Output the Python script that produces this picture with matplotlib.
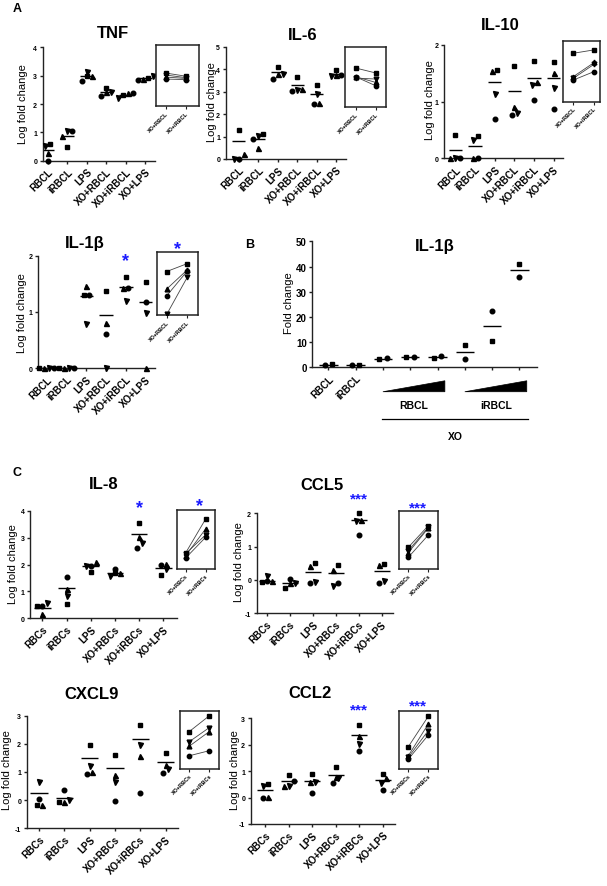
import matplotlib
matplotlib.use('Agg')
import matplotlib.pyplot as plt
import numpy as np
from matplotlib.patches import Polygon
import matplotlib.transforms as mtransforms

plt.rcParams['font.family'] = ['Liberation Sans', 'DejaVu Sans']

# ---------------- data ----------------
groups_A = ["RBCL", "iRBCL", "LPS", "XO+RBCL", "XO+iRBCL", "XO+LPS"]
groups_C = ["RBCs", "iRBCs", "LPS", "XO+RBCs", "XO+iRBCs", "XO+LPS"]
inset_A = ["XO+RBCL", "XO+iRBCL"]
inset_C = ["XO+RBCs", "XO+iRBCs"]

# point rows: square, triangle-up, triangle-down, circle
tnf_pts = [[0.59, 0.49, 2.98, 2.55, 2.30, 2.92],
           [0.27, 0.88, 2.98, 2.41, 2.39, 2.88],
           [0.53, 1.04, 3.14, 2.41, 2.21, 2.98],
           [0.00, 1.04, 2.82, 2.29, 2.39, 2.86]]
tnf_mean = [0.39, 0.88, 3.00, 2.41, 2.33, 2.90]
tnf_inset = [[3.09, 2.98], [2.95, 2.90], [3.02, 2.93], [2.88, 2.86]]

il6_pts = [[1.31, 1.11, 4.08, 3.63, 3.29, 3.98],
           [0.22, 0.49, 3.78, 3.12, 2.49, 3.74],
           [0.00, 1.04, 3.78, 3.07, 2.89, 3.71],
           [0.00, 0.89, 3.56, 3.04, 2.45, 3.74]]
il6_mean = [0.82, 0.89, 3.86, 3.29, 2.89, 3.78]
il6_inset = [[4.05, 3.83], [3.66, 3.41], [3.60, 3.56], [3.66, 3.26]]

il10_pts = [[0.41, 0.39, 1.55, 1.62, 1.72, 1.69],
            [0.00, 0.00, 1.54, 0.90, 1.34, 1.50],
            [0.00, 0.32, 1.14, 0.80, 1.29, 1.23],
            [0.00, 0.00, 0.70, 0.76, 1.03, 0.87]]
il10_mean = [0.15, 0.22, 1.35, 1.19, 1.41, 1.41]
il10_inset = [[1.85, 1.91], [1.44, 1.69], [1.41, 1.66], [1.38, 1.53]]

il1b_pts = [[0.00, 0.00, 1.30, 1.38, 1.63, 1.54],
            [0.00, 0.00, 1.47, 0.80, 1.42, 0.00],
            [0.00, 0.00, 0.79, 0.00, 1.20, 0.99],
            [0.00, 0.00, 1.30, 0.61, 1.42, 1.17]]
il1b_mean = [0.00, 0.00, 1.28, 0.95, 1.45, 1.17]
il1b_inset = [[1.72, 1.86], [1.41, 1.75], [0.96, 1.62], [1.29, 1.73]]

b_groups = ["RBCL", "iRBCL", "", "", "", "", "", ""]
b_square = [1.2, 1.1, 3.3, 4.0, 3.7, 8.9, 10.3, 41.0]
b_circle = [1.1, 1.0, 3.6, 4.0, 4.4, 3.3, 22.5, 36.0]
b_mean = [1.0, 1.0, 3.4, 3.9, 4.0, 6.2, 16.5, 38.6]

il8_pts = [[0.45, 0.53, 1.71, 1.68, 3.54, 1.62],
           [0.16, 1.09, 2.10, 1.68, 3.03, 2.02],
           [0.57, 0.84, 1.96, 1.59, 2.80, 1.83],
           [0.45, 1.55, 1.96, 1.83, 2.61, 1.98]]
il8_mean = [0.38, 1.11, 1.93, 1.68, 3.13, 1.86]
il8_inset = [[2.43, 3.69], [2.33, 3.32], [2.40, 3.10], [2.24, 3.01]]

ccl5_pts = [[-0.05, -0.24, 0.51, 0.46, 2.01, 0.48],
            [-0.03, -0.10, 0.41, 0.31, 1.81, 0.45],
            [0.13, -0.09, -0.07, -0.19, 1.78, -0.02],
            [-0.04, 0.03, -0.10, -0.09, 1.36, -0.09]]
ccl5_mean = [-0.02, -0.10, 0.25, 0.20, 1.80, 0.28]
ccl5_inset = [[0.98, 1.63], [0.82, 1.56], [0.88, 1.58], [0.68, 1.35]]

cxcl9_pts = [[-0.18, -0.08, 1.96, 1.60, 2.66, 1.67],
             [-0.17, -0.08, 1.00, 0.90, 1.57, 1.24],
             [0.65, 0.01, 1.20, 0.66, 1.95, 1.12],
             [0.04, 0.36, 0.92, -0.02, 0.27, 0.98]]
cxcl9_mean = [0.24, 0.09, 1.49, 1.14, 2.17, 1.34]
cxcl9_inset = [[2.43, 2.99], [1.91, 2.43], [2.07, 2.57], [1.57, 1.75]]

ccl2_pts = [[0.52, 0.86, 0.90, 1.17, 2.73, 0.90],
            [0.04, 0.42, 0.58, 0.77, 2.32, 0.74],
            [0.45, 0.45, 0.58, 0.73, 2.03, 0.54],
            [-0.03, 0.64, 0.18, 0.54, 1.78, 0.30]]
ccl2_mean = [0.29, 0.62, 0.62, 0.86, 2.37, 0.67]
ccl2_inset = [[1.93, 3.08], [1.59, 2.79], [1.53, 2.54], [1.46, 2.37]]

# ---------------- figure ----------------
W, H = 607, 887
fig = plt.figure(figsize=(W / 100, H / 100), dpi=100)
fig.patch.set_facecolor('white')

MARKERS = ['s', '^', 'v', 'o']
MS = {'s': 3.0, '^': 3.6, 'v': 3.6, 'o': 3.3}
STAR = '#1a1aff'
SPINE = '#222222'


def px_axes(l, r, t, b):
    return fig.add_axes([l / W, 1 - b / H, (r - l) / W, (b - t) / H])


def ftext(x, y, s, **kw):
    return fig.text(x / W, 1 - y / H, s, **kw)


def spread(vals, tol, step):
    """Horizontal offsets so that points with nearly equal values sit side by side."""
    vals = np.asarray(vals, float)
    order = np.argsort(vals, kind='stable')
    offs = np.zeros(len(vals))
    clusters, cur = [], [order[0]]
    for i in order[1:]:
        if vals[i] - vals[cur[0]] < tol:
            cur.append(i)
        else:
            clusters.append(cur)
            cur = [i]
    clusters.append(cur)
    for c in clusters:
        n = len(c)
        for k, idx in enumerate(c):
            offs[idx] = (k - (n - 1) / 2) * step
    return offs


def dot_panel(l, r, t, b, x0, sp, ylim, yticks, cats, pts, means,
              markers=MARKERS, label_fs=7, ytick_fs=5, step_px=5.0):
    ax = px_axes(l, r, t, b)
    n = len(cats)
    ax.set_xlim((l - x0) / sp, (r - x0) / sp)
    ax.set_ylim(*ylim)
    rng = ylim[1] - ylim[0]
    tol = 6.0 / (b - t) * rng
    for g in range(n):
        vals = [p[g] for p in pts]
        offs = spread(vals, tol, step_px / sp)
        for m, v, o in zip(markers, vals, offs):
            ax.plot(g + o, v, marker=m, ms=MS[m], color='black', ls='none',
                    clip_on=False, zorder=3)
        ax.plot([g - 0.34, g + 0.34], [means[g]] * 2, color='black', lw=1.0,
                solid_capstyle='butt', zorder=2)
    for s in ['top', 'right']:
        ax.spines[s].set_visible(False)
    for s in ['left', 'bottom']:
        ax.spines[s].set_linewidth(1.0)
        ax.spines[s].set_color(SPINE)
    ax.set_xticks(range(n))
    ax.set_xticklabels(cats, rotation=45, ha='right', va='top',
                       rotation_mode='anchor', fontsize=label_fs,
                       fontweight='bold')
    ax.set_yticks(yticks)
    ax.set_yticklabels([str(v) for v in yticks], fontsize=ytick_fs,
                       fontweight='bold')
    ax.tick_params(length=2.5, width=1.0, pad=1.5, color=SPINE)
    ax.patch.set_alpha(0)
    return ax


def inset_panel(l, r, t, b, x0, sp, ylim, cats, pairs):
    ax = px_axes(l, r, t, b)
    ax.set_xlim((l - x0) / sp, (r - x0) / sp)
    ax.set_ylim(*ylim)
    for pair in pairs:
        ax.plot([0, 1], pair, color='#444444', lw=0.6, zorder=2)
    for m, pair in zip(MARKERS, pairs):
        ax.plot([0, 1], pair, marker=m, ms=MS[m] * 0.95, color='black',
                ls='none', zorder=3)
    ax.set_yticks([])
    ax.set_xticks([0, 1])
    ax.set_xticklabels(cats, rotation=45, ha='right', va='top',
                       rotation_mode='anchor', fontsize=4, fontweight='bold')
    ax.tick_params(length=2, width=0.8, pad=1, color=SPINE)
    for s in ax.spines.values():
        s.set_linewidth(1.1)
        s.set_color(SPINE)
    return ax


def title(x, y, s, fs=12):
    ftext(x, y, s, ha='center', va='center', fontsize=fs, fontweight='bold')


def ylab(x, y, s, fs=8):
    ftext(x, y, s, ha='center', va='center', rotation=90, fontsize=fs)


def star(x, y, s, fs=13):
    fpx = fs * 100 / 72
    ftext(x, y + 0.52 * fpx, s, ha='center', va='baseline', fontsize=fs,
          fontweight='bold', color=STAR)


# ---------- Panel A ----------
ftext(17, 9, 'A', ha='center', va='center', fontsize=9, fontweight='bold')

# TNF
dot_panel(42.7, 155, 48.3, 161.7, 47.7, 19.5, (0, 4), [0, 1, 2, 3, 4],
          groups_A, tnf_pts, tnf_mean)
inset_panel(156, 199.3, 46, 107.3, 166, 20, (1.92, 4.08), inset_A, tnf_inset)
title(113, 33, 'TNF')
ylab(23, 104, 'Log fold change')

# IL-6
dot_panel(225.7, 345.7, 47.7, 160, 238.7, 19.5, (0, 5), [0, 1, 2, 3, 4, 5],
          groups_A, il6_pts, il6_mean)
inset_panel(345, 386, 47.7, 108.3, 355.7, 20, (2.30, 5.0), inset_A, il6_inset)
title(303, 35, 'IL-6')
ylab(211.7, 102, 'Log fold change')

# IL-10
dot_panel(444.3, 563, 45.7, 159.3, 455.3, 19.7, (0, 2), [0, 1, 2],
          groups_A, il10_pts, il10_mean)
inset_panel(563.3, 600, 42.3, 102.7, 573.3, 21, (1.0, 2.06), inset_A, il10_inset)
title(500, 26, 'IL-10')
ylab(430, 100, 'Log fold change')

# IL-1b
dot_panel(38, 155, 256.7, 369.3, 46.7, 19.8, (0, 2), [0, 1, 2],
          groups_A, il1b_pts, il1b_mean)
inset_panel(157.3, 198.3, 253.3, 316, 166.7, 20.6, (0.95, 2.06), inset_A, il1b_inset)
title(85, 243.3, 'IL-1β')
ylab(21.7, 313, 'Log fold change')
star(126, 257, '*')
star(178, 245, '*')

# ---------- Panel B ----------
ftext(250, 245, 'B', ha='center', va='center', fontsize=9, fontweight='bold')
axB = dot_panel(312.3, 536.7, 242.3, 368.3, 328.3, 27.3, (0, 50),
                [0, 10, 20, 30, 40, 50], b_groups, [b_square, b_circle], b_mean,
                markers=['s', 'o'], label_fs=7, ytick_fs=7, step_px=7.5)
title(435, 246.7, 'IL-1β')
ylab(289, 303, 'Fold change')
trB = mtransforms.blended_transform_factory(axB.transData, axB.transAxes)
for (i0, i1) in [(2, 4), (5, 7)]:
    xa, xb = i0, i1 + 0.27
    axB.add_patch(Polygon([[xa, -0.194], [xb, -0.107], [xb, -0.194]],
                          closed=True, facecolor='black', edgecolor='black',
                          lw=0.5, transform=trB, clip_on=False))
axB.text((2 + 4.27) / 2, -0.297, 'RBCL', transform=trB, ha='center',
         va='center', fontsize=7.5, fontweight='bold')
axB.text((5 + 7.27) / 2, -0.297, 'iRBCL', transform=trB, ha='center',
         va='center', fontsize=7.5, fontweight='bold')
axB.plot([1.95, 7.33], [-0.41, -0.41], color='black', lw=0.9, transform=trB,
         clip_on=False)
axB.text((1.95 + 7.33) / 2, -0.548, 'XO', transform=trB, ha='center',
         va='center', fontsize=7.5, fontweight='bold')

# ---------- Panel C ----------
ftext(16.7, 473.3, 'C', ha='center', va='center', fontsize=9, fontweight='bold')

# IL-8
dot_panel(30, 176.7, 511.7, 619.3, 42.3, 24.2, (0, 4), [0, 1, 2, 3, 4],
          groups_C, il8_pts, il8_mean)
inset_panel(176.7, 215, 511, 570, 185.7, 20, (1.83, 4.02), inset_C, il8_inset)
title(103.3, 485, 'IL-8')
ylab(13.3, 564, 'Log fold change')
star(140, 504, '*')
star(199, 501.7, '*')

# CCL5
dot_panel(256.7, 393.3, 514.3, 614.3, 266.7, 23, (-1, 2), [-1, 0, 1, 2],
          groups_C, ccl5_pts, ccl5_mean)
inset_panel(399, 438.3, 511.7, 570, 408.3, 20, (0.33, 2.08), inset_C, ccl5_inset)
title(321.7, 486, 'CCL5')
ylab(239.3, 562, 'Log fold change')
star(359.3, 495.7, '***', fs=11)
star(418.3, 505, '***', fs=11)

# CXCL9
dot_panel(26.7, 178.3, 716.7, 829.3, 39, 25.3, (-1, 3), [-1, 0, 1, 2, 3],
          groups_C, cxcl9_pts, cxcl9_mean)
inset_panel(180, 219, 711.7, 770, 189.3, 20, (1.1, 3.17), inset_C, cxcl9_inset)
title(91.7, 695, 'CXCL9')
ylab(7.3, 770, 'Log fold change')

# CCL2
dot_panel(250.7, 395, 719.3, 825, 265, 23.6, (-1, 3), [-1, 0, 1, 2, 3],
          groups_C, ccl2_pts, ccl2_mean)
inset_panel(399, 438.3, 711.7, 770, 408.3, 20, (1.09, 3.29), inset_C, ccl2_inset)
title(310, 693.3, 'CCL2')
ylab(235, 770, 'Log fold change')
star(359.3, 706.7, '***', fs=11)
star(417.7, 702.7, '***', fs=11)

fig.savefig('out.png', dpi=100, facecolor='white')
